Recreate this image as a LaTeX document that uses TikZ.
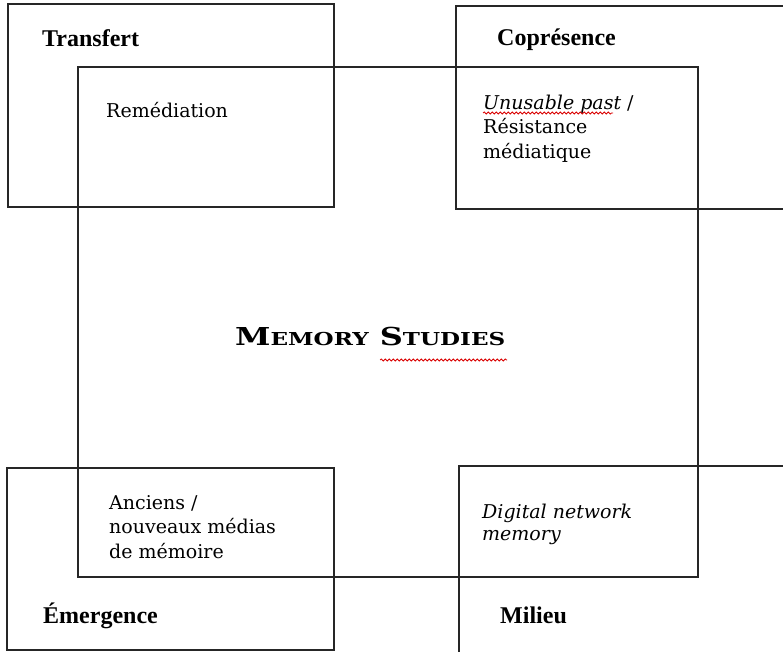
\documentclass[tikz,border=0pt]{standalone}
\usepackage{fontspec}
\usepackage{graphicx}
\setmainfont{DejaVu Serif}
\newfontfamily\headfont{Liberation Serif}
\usetikzlibrary{decorations.pathmorphing}
\begin{document}
\begin{tikzpicture}[x=1pt,y=-1pt,
  box/.style={draw=black!85,line width=1.3pt},
  body/.style={anchor=base west,inner sep=0pt,align=left,font=\fontsize{19}{24.5}\selectfont},
  head/.style={anchor=base west,inner sep=0pt,font=\headfont\bfseries\fontsize{24}{28}\selectfont},
  wavy/.style={draw=red!85!black,line width=0.8pt,decorate,decoration={snake,amplitude=1pt,segment length=4pt}}]
\useasboundingbox (0,0) rectangle (783,651);
\clip (0,0) rectangle (783,651);
% boxes
\draw[box] (8,4) rectangle (334,207);
\draw[box] (456,6) rectangle (800,209);
\draw[box] (7,468) rectangle (334,650);
\draw[box] (459,466) rectangle (800,670);
\draw[box] (78,67) rectangle (698,577);
% headings
\node[head] (transfert) at (42,46) {Transfert};
\node[head] (copresence) at (497,45) {Coprésence};
\node[head] (emergence) at (43,623) {Émergence};
\node[head] (milieu) at (500,623) {Milieu};
% body texts (anchored at the baseline of their last line)
\node[body] (remediation) at (106,117) {Remédiation};
\node[body] (unusable) at (483,158) {\textit{Unusable past} /\\Résistance\\médiatique};
\node[body] (anciens) at (109,558) {Anciens /\\nouveaux médias\\de mémoire};
\node[body,font=\fontsize{19}{22}\selectfont] (digital) at (482,540) {\textit{Digital network}\\\textit{memory}};
% title
\node[anchor=base west,inner sep=0pt] (title) at (235,345) {\resizebox{270pt}{\height}{\bfseries\fontsize{24.7}{28}\selectfont M\fontsize{17.8}{20}\selectfont EMORY\fontsize{24.7}{28}\selectfont\ S\fontsize{17.8}{20}\selectfont TUDIES}};
% spell-check underlines
\draw[wavy] (483,113) -- (613,113);
\draw[wavy] (380,360) -- (507,360);
\end{tikzpicture}
\end{document}
